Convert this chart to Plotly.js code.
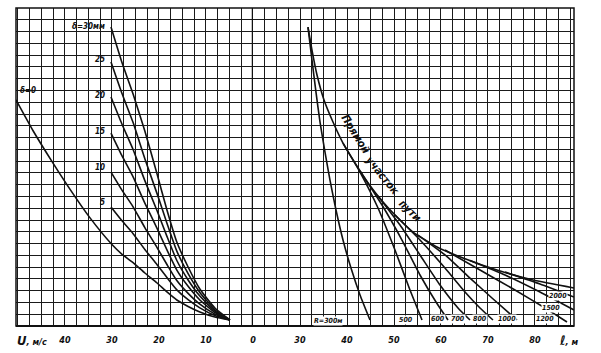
<!DOCTYPE html>
<html>
<head>
<meta charset="utf-8">
<script src="https://cdn.plot.ly/plotly-3.0.1.min.js"></script>
<style>
html,body{margin:0;padding:0;background:#fff;}
#chart{width:601px;height:353px;}
</style>
</head>
<body>
<div id="chart"></div>
<script>
// ---- Left nomogram: speed U (m/s), curves for rail gap delta (mm) ----
const uTicks = [0, 10, 20, 30, 40];
const deltaNames = ['δ=0', '5', '10', '15', '20', '25', 'δ=30мм'];
const d0_U  = [50.4, 46.8, 42.8, 38.9, 34.7, 30.0, 27.9, 25.5, 23.0, 20.4, 18.3, 16.2, 13.8, 11.3, 8.1, 4.9];
const d0_Y  = [19.2, 16.6, 14.0, 11.6, 9.2, 6.92, 6.11, 5.38, 4.5, 3.65, 2.89, 2.21, 1.66, 1.19, 0.76, 0.51];
const uGrid = [30.2, 27.9, 25.5, 23.0, 20.4, 18.3, 16.2, 13.8, 11.3, 8.1, 4.9];
const d5_Y  = [10.10, 8.95, 7.84, 6.50, 5.21, 4.11, 3.07, 2.23, 1.54, 0.89, 0.51];
const d10_Y = [13.07, 11.56, 10.12, 8.36, 6.66, 5.22, 3.86, 2.77, 1.85, 1.01, 0.51];
const d15_Y = [16.38, 14.48, 12.66, 10.43, 8.29, 6.46, 4.75, 3.37, 2.21, 1.15, 0.51];
const d20_Y = [19.44, 17.17, 14.99, 12.34, 9.79, 7.61, 5.56, 3.91, 2.54, 1.26, 0.51];
const d25_Y = [22.41, 19.78, 17.27, 14.20, 11.24, 8.73, 6.36, 4.45, 2.85, 1.38, 0.51];
const d30_Y = [25.38, 22.41, 19.69, 16.55, 12.90, 9.85, 7.13, 5.01, 3.14, 1.53, 0.51];
const deltaU = [d0_U, uGrid, uGrid, uGrid, uGrid, uGrid, uGrid];
const deltaY = [d0_Y, d5_Y, d10_Y, d15_Y, d20_Y, d25_Y, d30_Y];
const deltaLabelY = [20.0, 10.5, 13.5, 16.5, 19.6, 22.6, 25.4];

// ---- Right nomogram: length l (m), curves for radius R (m) ----
const lTicks = [30, 40, 50, 60, 70, 80];
const straight_L = [31.7, 32.55, 33.62, 35.11, 37.02, 39.15, 41.7, 44.47, 47.66, 50.85, 54.04, 59.15, 64.68, 71.91, 79.57, 88.3];
const straight_Y = [25.38, 23.43, 21.31, 19.19, 17.32, 15.53, 13.84, 12.14, 10.53, 9.17, 7.98, 6.71, 5.77, 4.75, 3.9, 3.23];
const r300_L  = [31.7, 32.55, 33.4, 34.26, 35.32, 36.38, 37.66, 39.15, 40.85, 42.77, 44.89];
const r300_Y  = [25.38, 22.58, 19.86, 17.32, 14.77, 12.39, 9.85, 7.3, 4.92, 2.63, 0.51];
const r500_L  = [39.15, 42.77, 46.6, 50.21, 53.4, 55.96];
const r500_Y  = [15.53, 13.07, 10.02, 6.45, 3.06, 0.51];
const r600_L  = [42.77, 47.45, 51.7, 55.53, 58.94, 61.49];
const r600_Y  = [13.16, 10.27, 7.3, 4.33, 2.04, 0.51];
const r700_L  = [46.6, 51.28, 55.53, 59.79, 63.62, 66.17];
const r700_Y  = [11.04, 8.57, 6.03, 3.48, 1.53, 0.51];
const r800_L  = [50.21, 55.53, 60.85, 65.11, 68.3, 71.06];
const r800_Y  = [9.42, 7.3, 4.92, 2.89, 1.53, 0.51];
const r1000_L = [55.11, 60.85, 66.17, 70.85, 76.17];
const r1000_Y = [7.72, 6.03, 4.07, 2.38, 0.51];
const r1200_L = [60.85, 68.3, 75.74, 82.13, 86.81];
const r1200_Y = [6.45, 4.75, 3.06, 1.53, 0.34];
const r1500_L = [66.17, 73.62, 81.06, 88.3];
const r1500_Y = [5.56, 4.33, 2.89, 1.36];
const r2000_L = [73.62, 81.06, 88.3];
const r2000_Y = [4.58, 3.57, 2.46];
const rNames = ['R=300м', '500', '600', '700', '800', '1000', '1200', '1500', '2000'];
const rL = [r300_L, r500_L, r600_L, r700_L, r800_L, r1000_L, r1200_L, r1500_L, r2000_L];
const rY = [r300_Y, r500_Y, r600_Y, r700_Y, r800_Y, r1000_Y, r1200_Y, r1500_Y, r2000_Y];
const rLabelL = [35.96, 52.55, 59.4, 63.6, 68.3, 74.0, 82.1, 83.4, 84.9];
const rLabelY = [0.42, 0.5, 0.59, 0.59, 0.59, 0.59, 0.59, 1.53, 2.55];
const pathWords = ['Прямой', 'участок', 'пути'];
const pathWordL = [41.9, 47.5, 53.3];
const pathWordY = [16.3, 12.8, 9.8];
const pathWordAngle = [58, 51, 45];

const FONT = 'Liberation Sans Narrow, DejaVu Sans Condensed, Arial Narrow, sans-serif';
const lineStyle = {color: '#111', width: 1.6, shape: 'spline', smoothing: 0.5};

const traces = [];
deltaU.forEach((u, i) => traces.push({
  x: u, y: deltaY[i], xaxis: 'x', yaxis: 'y', mode: 'lines',
  line: lineStyle, hoverinfo: 'skip', showlegend: false
}));
traces.push({x: straight_L, y: straight_Y, xaxis: 'x2', yaxis: 'y', mode: 'lines',
  line: lineStyle, hoverinfo: 'skip', showlegend: false});
rL.forEach((l, i) => traces.push({
  x: l, y: rY[i], xaxis: 'x2', yaxis: 'y', mode: 'lines',
  line: lineStyle, hoverinfo: 'skip', showlegend: false
}));

const annFont = {family: FONT, size: 8, color: '#111', style: 'italic', weight: 'bold'};
const annotations = [];
deltaNames.forEach((t, i) => {
  if (i === 0) {
    annotations.push({x: 47.9, y: deltaLabelY[i], xref: 'x', yref: 'y', text: t,
      showarrow: false, font: annFont});
  } else {
    annotations.push({x: 31.0, y: deltaLabelY[i], xref: 'x', yref: 'y', text: t,
      xanchor: 'right', showarrow: false, font: annFont});
  }
});
rNames.forEach((t, i) => annotations.push({
  x: rLabelL[i], y: rLabelY[i], xref: 'x2', yref: 'y', text: t,
  showarrow: false, font: {family: FONT, size: 7, color: '#111', style: 'italic', weight: 'bold'},
  bgcolor: '#fff', borderpad: 0
}));
pathWords.forEach((t, i) => annotations.push({
  x: pathWordL[i], y: pathWordY[i], xref: 'x2', yref: 'y', text: t,
  textangle: pathWordAngle[i], showarrow: false,
  font: {family: FONT, size: 11, color: '#111', style: 'italic', weight: 'bold'}
}));
annotations.push({x: -0.002, y: -0.045, xref: 'paper', yref: 'paper', xanchor: 'left',
  yanchor: 'middle', text: '<span style="font-size:13px">U</span>, м/с', showarrow: false,
  font: {family: FONT, size: 9, color: '#111', style: 'italic', weight: 'bold'}});
annotations.push({x: 0.99, y: -0.045, xref: 'paper', yref: 'paper', xanchor: 'center',
  yanchor: 'middle', text: '<span style="font-size:13px">ℓ</span>, м', showarrow: false,
  font: {family: FONT, size: 9, color: '#111', style: 'italic', weight: 'bold'}});

const split = 237 / 558;
const axisCommon = {
  showgrid: true, gridcolor: '#1a1a1a', gridwidth: 1,
  zeroline: false, showline: false, ticks: '',
  ticklabelstandoff: 7,
  tickfont: {family: FONT, size: 9, color: '#111', style: 'italic', weight: 'bold'},
  fixedrange: true
};
const layout = {
  width: 601, height: 353,
  margin: {l: 16, r: 27, t: 8, b: 27},
  paper_bgcolor: '#fff', plot_bgcolor: '#fff',
  showlegend: false,
  xaxis: Object.assign({}, axisCommon, {
    domain: [0, split], range: [50.4, -0.0001], tickmode: 'array', tickvals: uTicks,
    minor: {tickmode: 'linear', tick0: 0, dtick: 2.5, showgrid: true, gridcolor: '#1a1a1a', gridwidth: 1}
  }),
  xaxis2: Object.assign({}, axisCommon, {
    domain: [split, 1], range: [20, 88.3], tickmode: 'array', tickvals: lTicks,
    anchor: 'y',
    minor: {tickmode: 'linear', tick0: 0, dtick: 2.5, showgrid: true, gridcolor: '#1a1a1a', gridwidth: 1}
  }),
  yaxis: {
    range: [0, 27], showgrid: true, dtick: 1, tick0: 0, gridcolor: '#1a1a1a', gridwidth: 1,
    showticklabels: false, zeroline: false, showline: false, ticks: '', fixedrange: true
  },
  shapes: [
    {type: 'rect', xref: 'paper', yref: 'paper', x0: 0, x1: 1, y0: 0, y1: 1,
     line: {color: '#111', width: 1.5}},
    {type: 'line', xref: 'paper', yref: 'paper', x0: 0, x1: 1, y0: 0, y1: 0,
     line: {color: '#111', width: 2}},
    {type: 'line', xref: 'x', yref: 'paper', x0: 0, x1: 0, y0: 0, y1: 1,
     line: {color: '#111', width: 2.5}}
  ],
  annotations: annotations
};
Plotly.newPlot('chart', traces, layout, {displayModeBar: false, staticPlot: true});
</script>
</body>
</html>
